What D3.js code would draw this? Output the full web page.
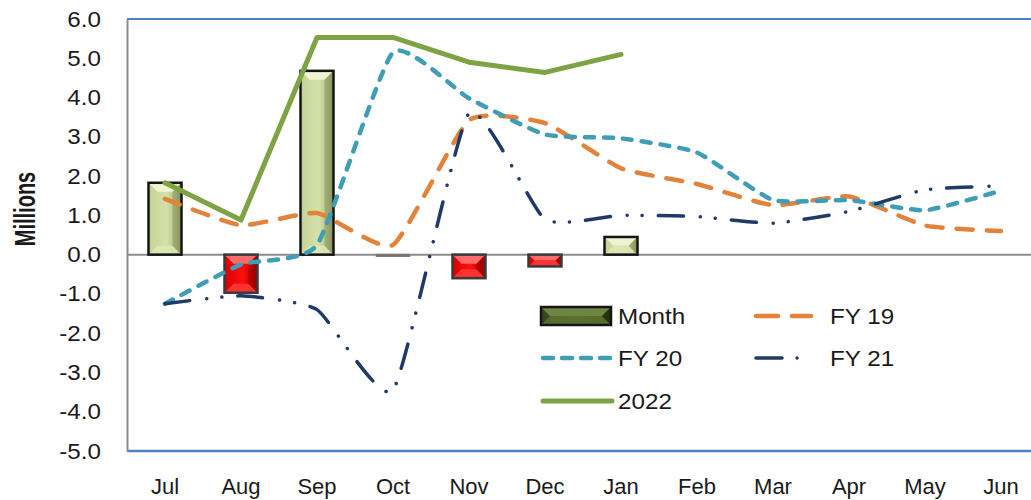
<!DOCTYPE html>
<html><head><meta charset="utf-8">
<script src="https://cdn.jsdelivr.net/npm/d3@7"></script>
<style>
body{margin:0;background:#fff}
svg{display:block}
text{font-family:"Liberation Sans",Arial,sans-serif;fill:#1a1a1a}
</style>
</head><body>
<svg id="c" width="1031" height="500"></svg>
<script>
const months = ["Jul","Aug","Sep","Oct","Nov","Dec","Jan","Feb","Mar","Apr","May","Jun"];
const monthVals = [1.83,-0.97,4.68,-0.04,-0.6,-0.3,0.45];
const fy19 = [1.42,0.75,1.06,0.25,3.42,3.35,2.2,1.8,1.26,1.48,0.74,0.6];
const fy20 = [-1.25,-0.25,0.25,5.15,3.98,3.06,2.96,2.6,1.39,1.39,1.13,1.63];
const fy21 = [-1.25,-1.05,-1.4,-3.45,3.6,0.9,1.0,0.97,0.8,1.1,1.65,1.75];
const y2022 = [1.83,0.88,5.53,5.53,4.9,4.64,5.1];
const yTicks = [6,5,4,3,2,1,0,-1,-2,-3,-4,-5];
const seriesNames = ["Month","FY 19","FY 20","FY 21","2022"];

const svg = d3.select("#c");
const L = 127, T = 19, B = 451, R = 1039;
const x = d3.scaleBand().domain(months).range([L, R]).padding(0);
const y = d3.scaleLinear().domain([-5, 6]).range([B, T]);
const cx = i => x(months[i]) + x.bandwidth() / 2;

const defs = svg.append("defs");
function grad(id, stops) {
  const g = defs.append("linearGradient").attr("id", id).attr("x1", "0").attr("x2", "1").attr("y1", "0").attr("y2", "0");
  stops.forEach(s => g.append("stop").attr("offset", s[0]).attr("stop-color", s[1]));
}
grad("gPos", [[0, "#c4d394"], [0.55, "#d4e1aa"], [0.8, "#b7c487"], [1, "#7d8a52"]]);
grad("gNeg", [[0, "#d80000"], [0.55, "#ff1010"], [0.8, "#d00000"], [1, "#8c0000"]]);
grad("gLeg", [[0, "#34431a"], [0.5, "#4f6428"], [1, "#2e3a16"]]);

// frame
svg.append("line").attr("x1", L).attr("x2", 1031).attr("y1", T).attr("y2", T).attr("stroke", "#4f81bd").attr("stroke-width", 2);
svg.append("line").attr("x1", L).attr("x2", 1031).attr("y1", B).attr("y2", B).attr("stroke", "#4f81bd").attr("stroke-width", 2.5);

// y axis
const fmt = d => d.toFixed(1);
const ya = svg.append("g").attr("transform", `translate(${L},0)`)
  .call(d3.axisLeft(y).tickValues(yTicks).tickFormat(fmt).tickSize(0).tickPadding(26));
ya.select(".domain").attr("stroke", "#8c8c8c").attr("stroke-width", 2);
ya.selectAll("text").attr("font-size", 22).attr("font-family", "Liberation Sans, Arial, sans-serif").attr("fill", "#1a1a1a");

// x axis
const xa = svg.append("g").attr("transform", `translate(0,${B})`)
  .call(d3.axisBottom(x).tickSize(0).tickPadding(27));
xa.select(".domain").remove();
xa.selectAll("text").attr("font-size", 22).attr("font-family", "Liberation Sans, Arial, sans-serif").attr("fill", "#1a1a1a");

// widen text slightly to match reference glyph proportions
function stretch(sel, k) {
  sel.each(function() {
    const n = this.getComputedTextLength();
    d3.select(this).attr("textLength", n * k).attr("lengthAdjust", "spacingAndGlyphs");
  });
}
stretch(ya.selectAll("text"), 1.1);

// y title (glyphs are drawn wide in the reference)
svg.append("text").attr("transform", "translate(35,209) scale(1.5,1) rotate(-90)")
  .attr("text-anchor", "middle").attr("font-size", 20).attr("font-weight", "bold").text("Millions");

// zero line
svg.append("line").attr("x1", L).attr("x2", 1031).attr("y1", y(0)).attr("y2", y(0)).attr("stroke", "#8c8c8c").attr("stroke-width", 2);

// bevelled bar
function bevelBar(g, bx, by, w, h, pos, legend) {
  const b = Math.min(9, h / 2, w / 2);
  const fill = legend ? "url(#gLeg)" : (pos ? "url(#gPos)" : "url(#gNeg)");
  const topC = legend ? "#6d8540" : (pos ? "#eef4cf" : "#ff6a6a");
  const botC = legend ? "#5c7233" : (pos ? "#dde8b6" : "#ff3a3a");
  const rightC = legend ? "#1f2a0e" : (pos ? "#8e9a62" : "#990000");
  g.append("rect").attr("x", bx).attr("y", by).attr("width", w).attr("height", h).attr("fill", fill);
  if (b > 1) {
    g.append("polygon").attr("points", [[bx, by], [bx + w, by], [bx + w - b, by + b], [bx + b, by + b]].join(" ")).attr("fill", topC);
    g.append("polygon").attr("points", [[bx, by + h], [bx + w, by + h], [bx + w - b, by + h - b], [bx + b, by + h - b]].join(" ")).attr("fill", botC).attr("opacity", 0.85);
    g.append("polygon").attr("points", [[bx + w, by], [bx + w, by + h], [bx + w - b, by + h - b], [bx + w - b, by + b]].join(" ")).attr("fill", rightC).attr("opacity", 0.6);
  }
  const tiny = h < 3;
  g.append("rect").attr("x", bx).attr("y", by).attr("width", w).attr("height", h)
    .attr("fill", "none").attr("stroke", tiny ? "#777" : (pos || legend ? "#151515" : "#3a3a3a")).attr("stroke-width", tiny ? 1.5 : 2.5);
}
const bw = 33;
const barsG = svg.append("g");
monthVals.forEach((v, i) => {
  const y0 = y(Math.max(0, v)), y1 = y(Math.min(0, v));
  bevelBar(barsG.append("g"), cx(i) - bw / 2, y0, bw, Math.max(1, y1 - y0), v >= 0, false);
});

// lines
const smooth = d3.line().x((d, i) => cx(i)).y(d => y(d)).curve(d3.curveCardinal.tension(0.5));
const straight = d3.line().x((d, i) => cx(i)).y(d => y(d));
const styles = {
  fy19: {c: "#e3823a", w: 4.5, dash: "16,14"},
  fy20: {c: "#3f9db6", w: 4.5, dash: "9,10"},
  fy21: {c: "#1f3a68", w: 3.5, dash: "25,17,0.1,15,0.1,16"},
  y22: {c: "#7da344", w: 5, dash: null}
};
function drawLine(data, st, gen) {
  svg.append("path").datum(data).attr("d", gen).attr("fill", "none")
    .attr("stroke", st.c).attr("stroke-width", st.w).attr("stroke-linecap", "round").attr("stroke-linejoin", "round")
    .attr("stroke-dasharray", st.dash);
}
drawLine(fy19, styles.fy19, smooth);
drawLine(fy20, styles.fy20, smooth);
drawLine(fy21, styles.fy21, smooth);
drawLine(y2022, styles.y22, straight);

// legend
const lg = svg.append("g");
const leg = [
  {name: seriesNames[0], x: 541, y: 316, type: "bar"},
  {name: seriesNames[1], x: 754, y: 316, type: "fy19"},
  {name: seriesNames[2], x: 541, y: 358, type: "fy20"},
  {name: seriesNames[3], x: 754, y: 358, type: "fy21"},
  {name: seriesNames[4], x: 541, y: 401, type: "y22"}
];
leg.forEach(e => {
  const sw = e.x < 700 ? 71 : 57;
  if (e.type === "bar") {
    bevelBar(lg.append("g"), e.x, e.y - 9, 70, 18, true, true);
  } else {
    const st = styles[e.type];
    lg.append("line").attr("x1", e.x + 2).attr("x2", e.x + sw).attr("y1", e.y).attr("y2", e.y)
      .attr("stroke", st.c).attr("stroke-width", st.w).attr("stroke-linecap", "round")
      .attr("stroke-dasharray", e.type === "fy19" ? "22,14" : e.type === "fy20" ? "10,9" : e.type === "fy21" ? "26,15,0.1,15,0.1,15" : null);
  }
  const t = lg.append("text").attr("x", e.x < 700 ? 618 : 830).attr("y", e.y).attr("dy", "0.36em")
    .attr("font-size", 22).text(e.name);
  stretch(t, 1.1);
});
</script>
</body></html>
